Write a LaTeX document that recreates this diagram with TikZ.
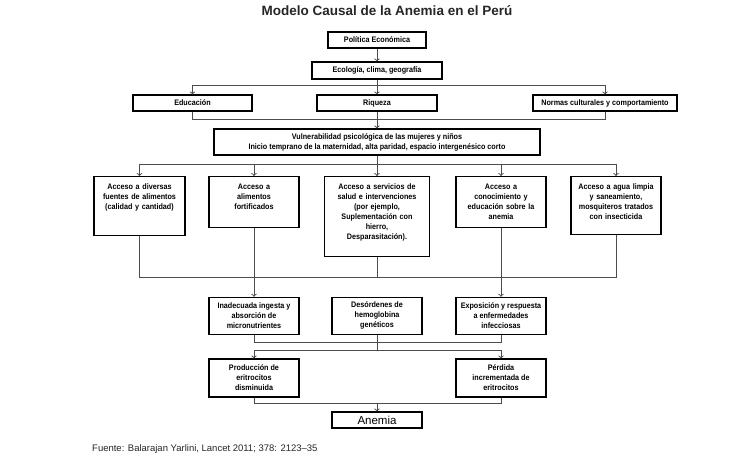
\documentclass[tikz,border=0pt]{standalone}
\usepackage{fontspec}
\setmainfont{Liberation Sans}[FakeStretch=0.9]
\newfontfamily\titlefont{Liberation Sans}
\usepackage{tikz}
\usetikzlibrary{arrows}

\begin{document}
\begin{tikzpicture}[x=1pt,y=-1pt]
\useasboundingbox (0,0) rectangle (755,472);

\tikzstyle{box}=[draw=black,line width=1.1pt,align=center,inner sep=2pt,font=\bfseries\fontsize{8}{10}\selectfont]
\tikzstyle{accbox}=[box,anchor=north,inner xsep=1pt,text height=10.5pt]
\tikzstyle{wire}=[draw=black!70,line width=1pt]

\node[font=\titlefont\bfseries\fontsize{13.5}{15}\selectfont,text=black!85] (title) at (387,11) {Modelo Causal de la Anemia en el Perú};

\node[box,minimum width=98,minimum height=16] (pol) at (377,40) {Política Económica};
\node[box,minimum width=130,minimum height=17] (eco) at (377,70.5) {Ecología, clima, geografía};

\node[box,minimum width=119,minimum height=16] (edu) at (192.5,103) {Educación};
\node[box,minimum width=120,minimum height=16] (riq) at (377,103) {Riqueza};
\node[box,minimum width=144,minimum height=16] (nor) at (605,103) {Normas culturales y comportamiento};

\node[box,minimum width=326,minimum height=26] (vul) at (377,142) {Vulnerabilidad psicológica de las mujeres y niños\\Inicio temprano de la maternidad, alta paridad, espacio intergenésico corto};

% acceso
\node[accbox,text width=89,text depth=44.5pt] (a1) at (139.5,176) {Acceso a diversas\\fuentes de alimentos\\(calidad y cantidad)};
\node[accbox,text width=88,text depth=36.5pt] (a2) at (254,176) {Acceso a\\alimentos\\fortificados};
\node[accbox,text width=103,text depth=65.5pt] (a3) at (377,176) {Acceso a servicios de\\salud e intervenciones\\(por ejemplo,\\Suplementación con\\hierro,\\Desparasitación).};
\node[accbox,text width=88,text depth=36.5pt] (a4) at (501,176) {Acceso a\\conocimiento y\\educación sobre la\\anemia};
\node[accbox,text width=88,text depth=43.5pt] (a5) at (616,176) {Acceso a agua limpia\\y saneamiento,\\mosquiteros tratados\\con insecticida};

\node[box,minimum width=90,minimum height=37] (b1) at (254,315.8) {Inadecuada ingesta y\\absorción de\\micronutrientes};
\node[box,minimum width=90,minimum height=37] (b2) at (377,315.8) {Desórdenes de\\hemoglobina\\genéticos};
\node[box,minimum width=90,minimum height=37] (b3) at (501,315.8) {Exposición y respuesta\\a enfermedades\\infecciosas};

\node[box,minimum width=90,minimum height=38] (c1) at (254,378) {Producción de\\eritrocitos\\disminuida};
\node[box,minimum width=90,minimum height=38] (c2) at (501,378) {Pérdida\\incrementada de\\eritrocitos};

\node[box,minimum width=90,minimum height=16,font=\titlefont\fontsize{11.5}{13}\selectfont] (ane) at (377,420) {Anemia};

\node[anchor=west,inner sep=0pt,font=\titlefont\fontsize{9.5}{11}\selectfont,text=black!85] (src) at (92,449) {Fuente: Balarajan Yarlini, Lancet 2011; 378: 2123–35};

% conectores
\draw[wire,->] (pol) -- (eco);
\draw[wire,->] (eco.south) -- ++(0,6) -| (edu.north);
\draw[wire,->] (eco.south) -- ++(0,6) -| (nor.north);
\draw[wire,->] (eco) -- (riq);
\draw[wire] (edu.south) -- ++(0,8) -| (nor.south);
\draw[wire,->] (riq) -- (vul);

\draw[wire,->] (vul.south) -- ++(0,9) -| (a1.north);
\draw[wire,->] (vul.south) -- ++(0,9) -| (a2.north);
\draw[wire,->] (vul.south) -- ++(0,9) -| (a4.north);
\draw[wire,->] (vul.south) -- ++(0,9) -| (a5.north);
\draw[wire,->] (vul) -- (a3);

\draw[wire] (a1.south) -- ++(0,41) coordinate (ja) -| (a5.south);
\draw[wire] (a3.south) -- (a3.south |- ja);
\draw[wire,->] (a2) -- (b1);
\draw[wire,->] (a4) -- (b3);

\draw[wire] (b1.south) -- ++(0,8) -| (b3.south);
\draw[wire] (b2.south) -- ++(0,16) coordinate (jb);
\draw[wire,->] (jb) -| (c1.north);
\draw[wire,->] (jb) -| (c2.north);

\draw[wire] (c1.south) -- ++(0,6) coordinate (jc) -| (c2.south);
\draw[wire,->] (ane.north |- jc) -- (ane.north);
\end{tikzpicture}
\end{document}
